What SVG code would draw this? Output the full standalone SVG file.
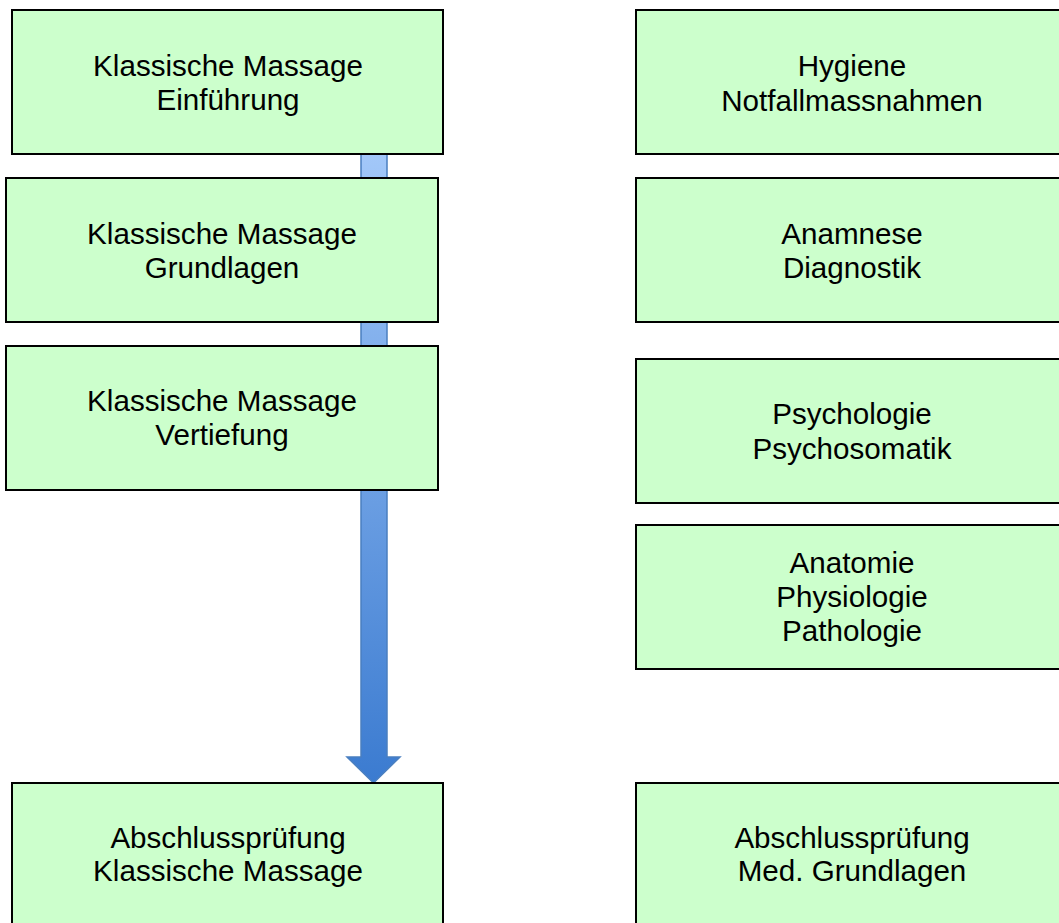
<svg xmlns="http://www.w3.org/2000/svg" width="1059" height="923" viewBox="0 0 1059 923">
<style>
.box{fill:#ccffcc;stroke:#000;stroke-width:2}
.t{font-family:"Liberation Sans",Arial,sans-serif;font-size:29.6px;fill:#000;text-anchor:middle}
</style>
<defs>
<linearGradient id="ag" x1="0" y1="0" x2="0" y2="1">
<stop offset="0" stop-color="#a3c8f9"/>
<stop offset="1" stop-color="#3b7bd0"/>
</linearGradient>
</defs>
<rect width="1059" height="923" fill="#fff"/>
<g id="connectors">
<path d="M361,150 L387,150 L387,757 L400,757 L373.5,783 L347,757 L361,757 Z" fill="url(#ag)" stroke="#4a7fc0" stroke-width="1.5"/>
</g>
<g id="n1"><rect class="box" x="12" y="10" width="431" height="144"/><text class="t" x="228" y="76">Klassische Massage</text><text class="t" x="228" y="110">Einführung</text></g>
<g id="n2"><rect class="box" x="6" y="178" width="432" height="144"/><text class="t" x="222" y="244">Klassische Massage</text><text class="t" x="222" y="278">Grundlagen</text></g>
<g id="n3"><rect class="box" x="6" y="346" width="432" height="144"/><text class="t" x="222" y="411">Klassische Massage</text><text class="t" x="222" y="445">Vertiefung</text></g>
<g id="n4"><rect class="box" x="12" y="783" width="431" height="160"/><text class="t" x="228" y="848">Abschlussprüfung</text><text class="t" x="228" y="881">Klassische Massage</text></g>
<g id="r1"><rect class="box" x="636" y="10" width="432" height="144"/><text class="t" x="852" y="76">Hygiene</text><text class="t" x="852" y="111">Notfallmassnahmen</text></g>
<g id="r2"><rect class="box" x="636" y="178" width="432" height="144"/><text class="t" x="852" y="244">Anamnese</text><text class="t" x="852" y="278">Diagnostik</text></g>
<g id="r3"><rect class="box" x="636" y="359" width="432" height="144"/><text class="t" x="852" y="424">Psychologie</text><text class="t" x="852" y="459">Psychosomatik</text></g>
<g id="r4"><rect class="box" x="636" y="525" width="432" height="144"/><text class="t" x="852" y="573">Anatomie</text><text class="t" x="852" y="607">Physiologie</text><text class="t" x="852" y="641">Pathologie</text></g>
<g id="r5"><rect class="box" x="636" y="783" width="432" height="160"/><text class="t" x="852" y="848">Abschlussprüfung</text><text class="t" x="852" y="881">Med. Grundlagen</text></g>
</svg>
